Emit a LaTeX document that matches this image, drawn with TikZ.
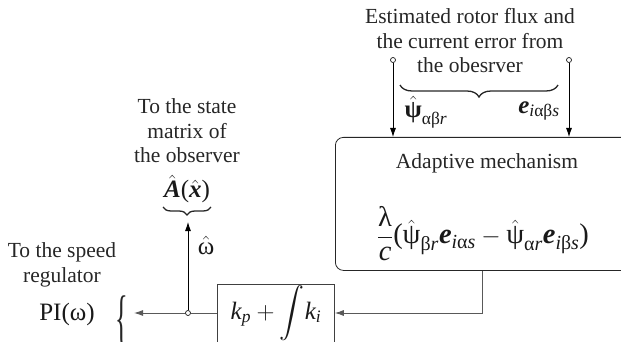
\documentclass[tikz,border=0pt]{standalone}
\usepackage{amsmath}
\usepackage{graphicx}
\usepackage{fontspec}
\setmainfont{Liberation Serif}
\usetikzlibrary{arrows.meta,decorations.pathreplacing}
\newcommand{\gk}[1]{\text{\upshape #1}}
\newcommand{\iv}[1]{\text{\itshape #1}}
\newcommand{\bv}[1]{\text{\bfseries\itshape #1}}
\begin{document}
\begin{tikzpicture}[x=1pt,y=-1pt,line width=0.8pt,>={Latex[length=9pt,width=6pt]},
  txt/.style={font=\fontsize{21.5}{24.5}\selectfont, align=center, text=black!85, inner sep=0pt},
  big/.style={font=\fontsize{25}{28}\selectfont, text=black!90, inner sep=0pt},
  box/.style={draw=black!85, line width=0.8pt, inner sep=0pt},
  ln/.style={draw=black!65, line width=0.9pt},
  dot/.style={circle, draw=black!90, fill=white, inner sep=0pt, minimum size=5pt, line width=0.7pt},
  brc/.style={decorate, line width=1.3pt, draw=black!85}]
\useasboundingbox (0,0) rectangle (621,342);
\clip (0,0) rectangle (621,342);

% top text and inputs
\node[txt] (top) at (470,41) {Estimated rotor flux and\\the current error from\\the obesrver};
\node[dot] (c1) at (393,60) {};
\node[dot] (c2) at (569,60) {};
\node[box, rounded corners=8pt, minimum width=310pt, minimum height=133pt, anchor=north west] (adapt) at (335,137) {};
\draw[->] (c1) -- (c1 |- adapt.north);
\draw[->] (c2) -- (c2 |- adapt.north);
\draw[brc, decoration={brace, amplitude=12pt}] (558,85) -- (400,85);
\node[big] (psil) at (426,112) {$\hat{\text{\bfseries ψ}}_{\gk{αβ}\iv{r}}$};
\node[big] (el) at (539,111) {$\bv{e}_{\iv{i}\gk{αβ}\iv{s}}$};

% adaptive mechanism
\node[txt] (adtitle) at (487,163) {Adaptive mechanism};
\node[font=\fontsize{28.5}{31}\selectfont, text=black!90, inner sep=0pt] (law) at (483,234) {$\dfrac{\gk{λ}}{\iv{c}}\text{(}\hat{\gk{ψ}}_{\gk{β}\iv{r}}\bv{e}_{\iv{i}\gk{α}\iv{s}} - \hat{\gk{ψ}}_{\gk{α}\iv{r}}\bv{e}_{\iv{i}\gk{β}\iv{s}}\text{)}$};

% PI block
\node[box, draw=black!75, minimum width=117pt, minimum height=90pt, anchor=north west] (pibox) at (217,284) {};
\node[font=\fontsize{25}{28}\selectfont, text=black!90, inner sep=0pt] (pitext) at (276,313) {$\iv{k}_{\iv{p}} + \displaystyle\int\! \iv{k}_{\iv{i}}$};
\coordinate (bend) at (482,313);
\draw[ln,->] (bend |- adapt.south) -- (bend) -- (pibox.east |- bend);

% outputs
\node[dot] (j) at (188,313) {};
\coordinate (pout) at (134,313);
\coordinate (omtip) at (188,222);
\draw[ln] (pibox.west |- j) -- (j);
\draw[ln,->] (j) -- (pout);
\draw[->] (j) -- (omtip);
\node[big] (om) at (206,245) {$\hat{\gk{ω}}$};
\node[big] (ax) at (187,189) {$\hat{\bv{A}}\text{(}\hat{\bv{x}}\text{)}$};
\draw[brc, decoration={brace, amplitude=8pt}] (211,207) -- (163,207);
\node[txt] (state) at (187,131) {To the state\\matrix of\\the observer};
\node[txt] (speed) at (62,265) {To the speed\\regulator};
\node[font=\fontsize{25}{28}\selectfont, text=black!90, inner sep=0pt] (pi) at (67,314) {PI(ω)};
\node[inner sep=0pt, text=black!85, font=\fontsize{22}{24}\selectfont] (lbrace) at (122,321) {\scalebox{1.2}[2.8]{\{}};
\end{tikzpicture}
\end{document}
